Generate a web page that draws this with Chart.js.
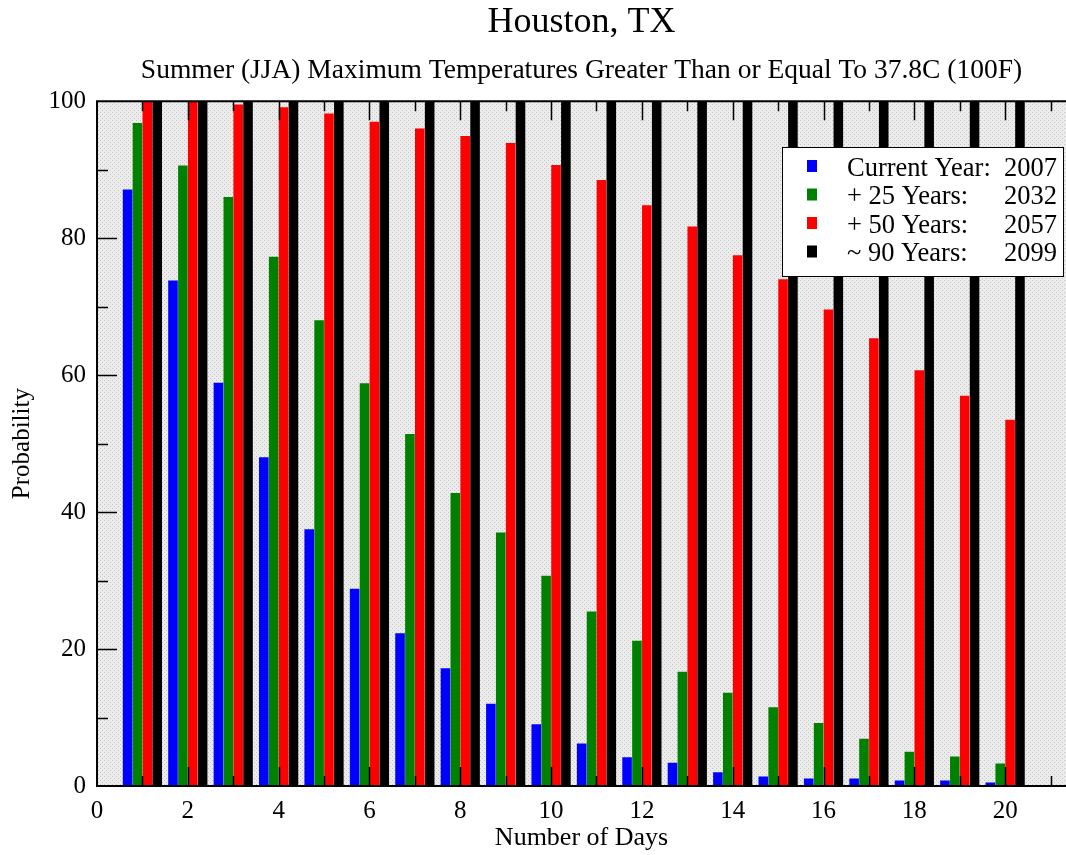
<!DOCTYPE html>
<html>
<head>
<meta charset="utf-8">
<script src="https://cdn.jsdelivr.net/npm/chart.js@4/dist/chart.umd.min.js"></script>
<style>
  html, body { margin: 0; padding: 0; background: #ffffff; }
  #wrap { width: 1066px; height: 855px; position: relative; }
</style>
</head>
<body>
<div id="wrap"><canvas id="c" width="1066" height="855"></canvas></div>
<script>
const days = [1,2,3,4,5,6,7,8,9,10,11,12,13,14,15,16,17,18,19,20];
const currentYear = [87.1, 73.8, 58.9, 48.0, 37.5, 28.8, 22.3, 17.2, 12.0, 9.0, 6.2, 4.2, 3.4, 2.0, 1.4, 1.1, 1.1, 0.8, 0.8, 0.5];
const plus25Years = [96.8, 90.6, 86.0, 77.3, 68.0, 58.8, 51.4, 42.8, 37.0, 30.7, 25.5, 21.2, 16.7, 13.6, 11.5, 9.2, 6.9, 5.0, 4.3, 3.3];
const plus50Years = [100, 100, 99.5, 99.1, 98.2, 97.0, 96.0, 94.9, 93.9, 90.7, 88.5, 84.8, 81.7, 77.5, 74.0, 69.6, 65.4, 60.7, 57.0, 53.5];
const plus90Years = [100, 100, 100, 100, 100, 100, 100, 100, 100, 100, 100, 100, 100, 100, 100, 100, 100, 100, 100, 100];
const seriesNames = ['Current Year:', '+ 25 Years:', '+ 50 Years:', '~ 90 Years:'];
const seriesYears = ['2007', '2032', '2057', '2099'];
const xTickLabels = [0, 2, 4, 6, 8, 10, 12, 14, 16, 18, 20];
const yTickLabels = [0, 20, 40, 60, 80, 100];

const colors = ['#0000ff', '#008000', '#ff0000', '#000000'];
const seriesValues = [currentYear, plus25Years, plus50Years, plus90Years];
const FONT = '"Liberation Serif", "Times New Roman", serif';

// dotted background pattern
const pc = document.createElement('canvas');
pc.width = 4; pc.height = 4;
const pctx = pc.getContext('2d');
pctx.fillStyle = '#ececec'; pctx.fillRect(0, 0, 4, 4);
pctx.fillStyle = '#c4c4c4';
pctx.fillRect(0, 0, 1, 1); pctx.fillRect(2, 2, 1, 1);

const bgPlugin = {
  id: 'bgPlugin',
  beforeDatasetsDraw(chart) {
    const {ctx, chartArea: a} = chart;
    ctx.save();
    ctx.fillStyle = ctx.createPattern(pc, 'repeat');
    ctx.fillRect(a.left, a.top, a.right - a.left, a.bottom - a.top);
    ctx.restore();
  },
  afterDatasetsDraw(chart) {
    const {ctx, chartArea: a, scales} = chart;
    ctx.save();
    ctx.strokeStyle = '#000';
    ctx.lineWidth = 2;
    ctx.beginPath();
    ctx.moveTo(a.right + 2, a.top); ctx.lineTo(a.left, a.top);
    ctx.lineTo(a.left, a.bottom); ctx.lineTo(a.right + 2, a.bottom);
    ctx.stroke();
    // inward ticks
    ctx.lineWidth = 1.5;
    const xs = scales.x, ys = scales.y;
    ctx.beginPath();
    for (let v = 1; v <= 21; v++) {
      const px = Math.round(xs.getPixelForValue(v)) + 0.5;
      const len = v % 2 === 0 ? 19 : 10;
      ctx.moveTo(px, a.bottom); ctx.lineTo(px, a.bottom - len);
      ctx.moveTo(px, a.top); ctx.lineTo(px, a.top + len);
    }
    for (let v = 10; v < 100; v += 10) {
      const py = Math.round(ys.getPixelForValue(v)) + 0.5;
      const len = v % 20 === 0 ? 20 : 11;
      ctx.moveTo(a.left, py); ctx.lineTo(a.left + len, py);
    }
    ctx.stroke();
    // legend
    const lx = 782, ly = 147, lw = 281, lh = 129;
    ctx.fillStyle = '#ffffff';
    ctx.fillRect(lx, ly, lw, lh);
    ctx.strokeStyle = '#000';
    ctx.lineWidth = 1;
    ctx.strokeRect(lx + 0.5, ly + 0.5, lw, lh);
    ctx.font = '26.5px ' + FONT;
    ctx.textBaseline = 'middle';
    chart.data.datasets.forEach((ds, i) => {
      const cy = 169 + i * 28.5;
      ctx.fillStyle = ds.backgroundColor;
      ctx.fillRect(807, cy - 9, 10, 12);
      ctx.fillStyle = '#000';
      ctx.textAlign = 'left';
      ctx.fillText(seriesNames[i], 847, cy);
      ctx.textAlign = 'right';
      ctx.fillText(seriesYears[i], 1057, cy);
    });
    ctx.restore();
  }
};

new Chart(document.getElementById('c'), {
  type: 'bar',
  data: {
    datasets: seriesValues.map((vals, i) => ({
      label: seriesNames[i] + ' ' + seriesYears[i],
      data: days.map((d, j) => ({x: d, y: vals[j]})),
      backgroundColor: colors[i],
      borderWidth: 0,
      categoryPercentage: 0.87,
      barPercentage: 0.97
    }))
  },
  options: {
    responsive: false,
    animation: false,
    devicePixelRatio: 1,
    layout: { padding: { left: 0, right: 0, top: 0, bottom: 0 } },
    plugins: {
      legend: { display: false },
      tooltip: { enabled: false },
      title: {
        display: true,
        fullSize: false,
        text: 'Houston, TX',
        color: '#000',
        font: { family: FONT, size: 36, weight: 'normal', lineHeight: 1.2 },
        padding: { top: 1, bottom: 5 }
      },
      subtitle: {
        display: true,
        fullSize: false,
        text: 'Summer (JJA) Maximum Temperatures Greater Than or Equal To 37.8C (100F)',
        color: '#000',
        font: { family: FONT, size: 27.5, weight: 'normal', lineHeight: 1.2 },
        padding: { top: 5, bottom: 14 }
      }
    },
    scales: {
      x: {
        type: 'linear',
        min: 0,
        max: 21.34,
        offset: false,
        grid: { display: false, drawTicks: false },
        border: { display: false },
        afterBuildTicks(scale) { scale.ticks = xTickLabels.map(v => ({value: v})); },
        ticks: {
          color: '#000',
          padding: 13,
          maxRotation: 0,
          autoSkip: false,
          font: { family: FONT, size: 25, lineHeight: 1.0 }
        },
        title: {
          display: true,
          text: 'Number of Days',
          color: '#000',
          font: { family: FONT, size: 26, lineHeight: 1.0 },
          padding: { top: -12, bottom: 4 }
        }
      },
      y: {
        min: 0,
        max: 100,
        grid: { display: false, drawTicks: false },
        border: { display: false },
        afterBuildTicks(scale) { scale.ticks = yTickLabels.map(v => ({value: v})); },
        ticks: {
          color: '#000',
          padding: 11,
          font: { family: FONT, size: 25, lineHeight: 1.0 }
        },
        title: {
          display: true,
          text: 'Probability',
          color: '#000',
          font: { family: FONT, size: 25, lineHeight: 1.0 },
          padding: { top: 9.5, bottom: 3 }
        }
      }
    }
  },
  plugins: [bgPlugin]
});
</script>
</body>
</html>
